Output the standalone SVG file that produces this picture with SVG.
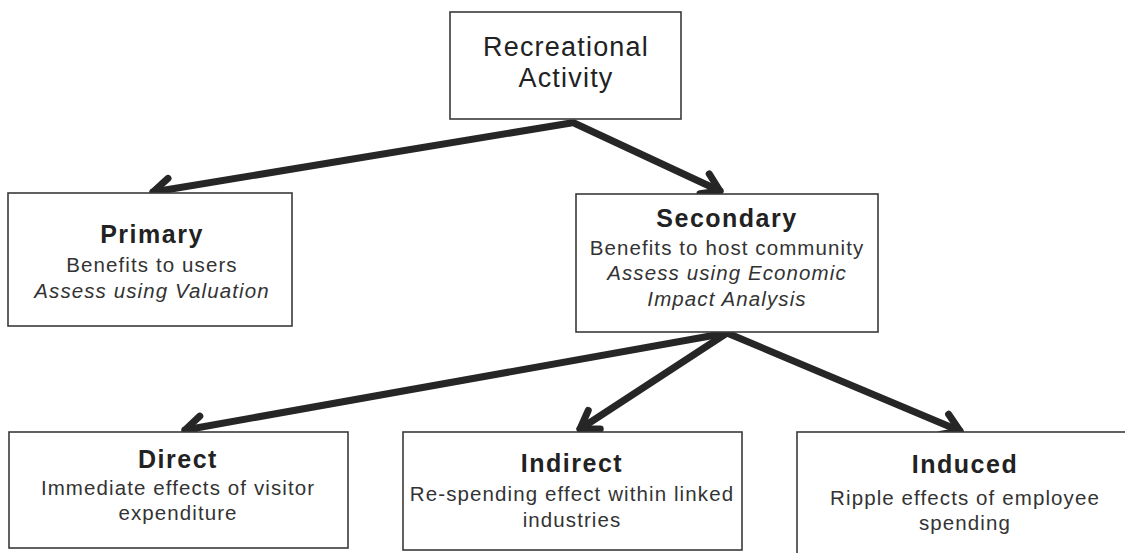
<svg xmlns="http://www.w3.org/2000/svg" width="1125" height="553" viewBox="0 0 1125 553">
<style>
.box{fill:#fff;stroke:#3a3a3a;stroke-width:1.6}
text{font-family:"Liberation Sans",Arial,sans-serif;fill:#222;text-anchor:middle}
.top{font-size:27px;letter-spacing:1.2px}
.ttl{font-size:25px;font-weight:bold;letter-spacing:1.5px}
.sub{font-size:20.5px;letter-spacing:1.1px;fill:#333}
.it{font-style:italic}
.conn{stroke:#262626;stroke-width:7;fill:none;stroke-linecap:round;marker-end:url(#ah)}
</style>
<defs>
<marker id="ah" markerUnits="userSpaceOnUse" orient="auto" refX="0" refY="0" markerWidth="30" markerHeight="30" overflow="visible">
<path d="M -17 -11 L 0 0 L -17 11" fill="none" stroke="#262626" stroke-width="7" stroke-linejoin="round" stroke-linecap="round"/>
</marker>
</defs>
<rect width="1125" height="553" fill="#fff"/>
<g id="connectors">
<path class="conn" d="M 571 123 L 153 192"/>
<path class="conn" d="M 574 123 L 720 191"/>
<path class="conn" d="M 727 333 L 185 430"/>
<path class="conn" d="M 727 333 L 580 429"/>
<path class="conn" d="M 727 333 L 960 431"/>
</g>
<g id="recreational">
<rect class="box" x="450" y="12" width="231" height="107"/>
<text class="top" x="566" y="56">Recreational</text>
<text class="top" x="566" y="87">Activity</text>
</g>
<g id="primary">
<rect class="box" x="8" y="193" width="284" height="133"/>
<text class="ttl" x="152" y="243">Primary</text>
<text class="sub" x="152" y="272">Benefits to users</text>
<text class="sub it" x="152" y="298">Assess using Valuation</text>
</g>
<g id="secondary">
<rect class="box" x="576" y="194" width="302" height="138"/>
<text class="ttl" x="727" y="227">Secondary</text>
<text class="sub" x="727" y="255">Benefits to host community</text>
<text class="sub it" x="727" y="280">Assess using Economic</text>
<text class="sub it" x="727" y="306">Impact Analysis</text>
</g>
<g id="direct">
<rect class="box" x="9" y="432" width="339" height="116"/>
<text class="ttl" x="178" y="468">Direct</text>
<text class="sub" x="178" y="495">Immediate effects of visitor</text>
<text class="sub" x="178" y="520">expenditure</text>
</g>
<g id="indirect">
<rect class="box" x="403" y="432" width="339" height="118"/>
<text class="ttl" x="572" y="472">Indirect</text>
<text class="sub" x="572" y="501">Re-spending effect within linked</text>
<text class="sub" x="572" y="527">industries</text>
</g>
<g id="induced">
<rect class="box" x="797" y="432" width="340" height="140"/>
<text class="ttl" x="965" y="473">Induced</text>
<text class="sub" x="965" y="505">Ripple effects of employee</text>
<text class="sub" x="965" y="530">spending</text>
</g>
</svg>
